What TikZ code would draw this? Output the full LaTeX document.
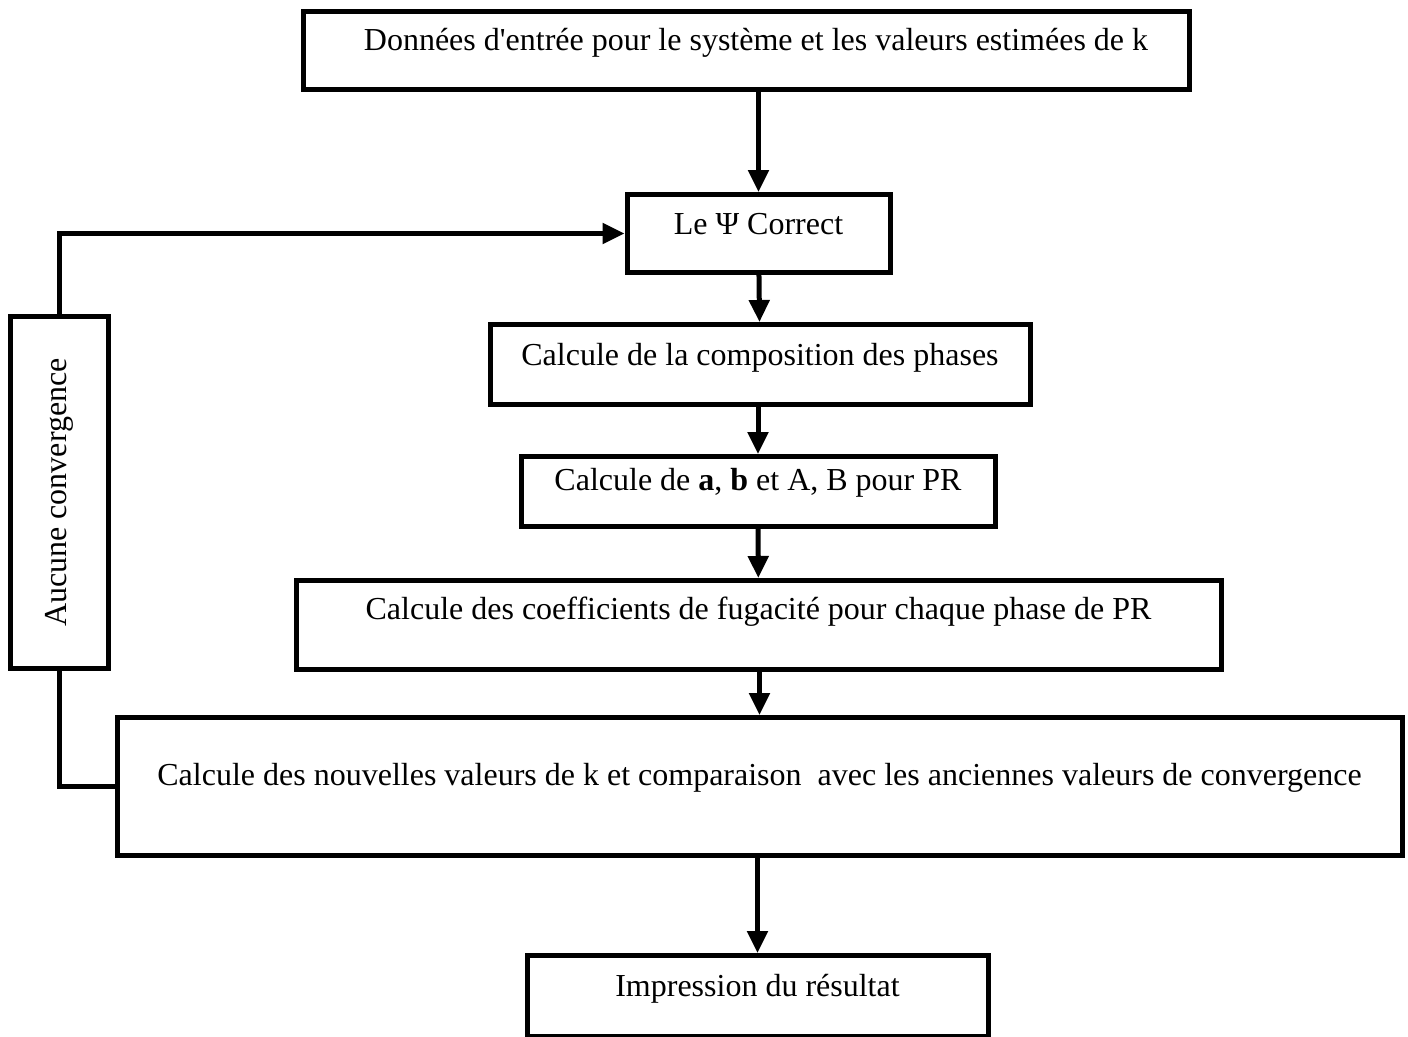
\documentclass[tikz,border=0pt]{standalone}
\usepackage{fontspec}
\setmainfont{Liberation Serif}[Ligatures=TeXOff]
\usepackage{graphicx}
\usetikzlibrary{
    arrows.meta,
    positioning
}
\tikzset{blk/.style={draw=black, line width=5pt, inner sep=0pt, anchor=north, font=\fontsize{32}{38}\selectfont}}
\tikzset{flw/.style={line width=5pt, -{Triangle[length=22pt, width=20pt]}}}
\tikzset{lnk/.style={line width=5pt}}

\begin{document}
\begin{tikzpicture}[x=1pt, y=-1pt]
                        \useasboundingbox (0, 0) rectangle (1408, 1036);

                        \node[blk, minimum width=886pt, text height=39pt, text depth=39pt] (entree) at (746, 9) {\hspace*{20pt}Données d'entrée pour le système et les valeurs estimées de k};
                        \node[blk, minimum width=263pt, text height=40pt, text depth=38pt] (psi) at (758.5, 192) {Le Ψ Correct};
                        \node[blk, minimum width=540pt, text height=41pt, text depth=39pt] (comp) at (760, 322) {Calcule de la composition des phases};
                        \node[blk, minimum width=474pt, text height=34pt, text depth=36pt] (ab) at (758, 454) {Calcule de \textbf{a}, \textbf{b} et A, B pour PR};
                        \node[blk, minimum width=925pt, text height=39pt, text depth=50pt] (fug) at (758.5, 578) {Calcule des coefficients de fugacité pour chaque phase de PR};
                        \node[blk, minimum width=1285pt, text height=68pt, text depth=70pt] (calc) at (759.5, 715) {Calcule des nouvelles valeurs de k et comparaison\ \ avec les anciennes valeurs de convergence};
                        \node[blk, minimum width=461pt, text height=41pt, text depth=40pt] (impr) at (757.5, 953) {Impression du résultat};

                        \node[blk, minimum width=98pt, minimum height=352pt] (conv) at (59, 314) {\rotatebox{90}{Aucune convergence}};

                        \draw[flw] (entree.south -| psi.north) -- (psi.north);
                        \draw[flw] (psi) -- (comp);
                        \draw[flw] (comp.south -| ab.north) -- (ab.north);
                        \draw[flw] (ab) -- (fug);
                        \draw[flw] (fug.south -| calc.north) -- (calc.north);
                        \draw[flw] (calc.south -| impr.north) -- (impr.north);

                        \draw[lnk] (calc.west) -| (conv.south);
                        \draw[flw] (conv.north) |- (psi.west);
                    \end{tikzpicture}
\end{document}
